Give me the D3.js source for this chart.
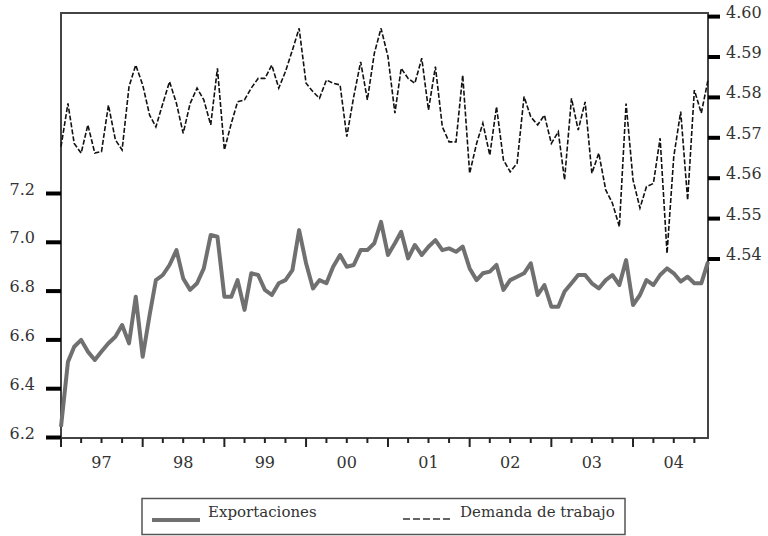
<!DOCTYPE html>
<html>
<head>
<meta charset="utf-8">
<script src="https://cdn.jsdelivr.net/npm/d3@7"></script>
<style>
  html, body { margin: 0; padding: 0; background: #fff; }
  svg { display: block; }
  text { font-family: "DejaVu Serif", "Liberation Serif", serif; fill: #333; }
</style>
</head>
<body>
<svg id="chart" width="768" height="536"></svg>
<script>
// ---- Data (monthly, Jan 1997 - Dec 2004) ----
const startYear = 1997;
const yearLabels = ["97", "98", "99", "00", "01", "02", "03", "04"];
const leftTicks = [6.2, 6.4, 6.6, 6.8, 7.0, 7.2];
const rightTicks = [4.54, 4.55, 4.56, 4.57, 4.58, 4.59, 4.60];

const exportaciones = [
  6.244, 6.510, 6.572, 6.600, 6.552, 6.518, 6.552, 6.586, 6.613, 6.661, 6.586, 6.777,
  6.531, 6.702, 6.845, 6.866, 6.907, 6.968, 6.852, 6.805, 6.832, 6.893, 7.030, 7.023,
  6.777, 6.777, 6.845, 6.723, 6.873, 6.866, 6.805, 6.784, 6.832, 6.845, 6.886, 7.050,
  6.914, 6.811, 6.845, 6.832, 6.900, 6.948, 6.900, 6.907, 6.968, 6.968, 6.996, 7.084,
  6.948, 6.996, 7.043, 6.934, 6.989, 6.948, 6.982, 7.009, 6.968, 6.975, 6.961, 6.982,
  6.893, 6.845, 6.873, 6.880, 6.907, 6.805, 6.845, 6.859, 6.873, 6.914, 6.784, 6.825,
  6.736, 6.736, 6.798, 6.832, 6.866, 6.866, 6.832, 6.811, 6.845, 6.866, 6.825, 6.927,
  6.743, 6.784, 6.845, 6.825, 6.866, 6.893, 6.873, 6.839, 6.859, 6.832, 6.832, 6.920
];

const demandaTrabajo = [
  4.5678, 4.5785, 4.5686, 4.5662, 4.5732, 4.5662, 4.5666, 4.5781, 4.5695, 4.5670, 4.5827, 4.5880,
  4.5831, 4.5756, 4.5727, 4.5785, 4.5839, 4.5785, 4.5711, 4.5785, 4.5823, 4.5794, 4.5732, 4.5872,
  4.5670, 4.5736, 4.5789, 4.5794, 4.5823, 4.5847, 4.5847, 4.5880, 4.5823, 4.5864, 4.5917, 4.5971,
  4.5835, 4.5814, 4.5798, 4.5843, 4.5835, 4.5831, 4.5703, 4.5802, 4.5888, 4.5794, 4.5909, 4.5971,
  4.5901, 4.5761, 4.5872, 4.5847, 4.5835, 4.5897, 4.5769, 4.5876, 4.5727, 4.5690, 4.5690, 4.5855,
  4.5612, 4.5686, 4.5736, 4.5657, 4.5777, 4.5645, 4.5616, 4.5637, 4.5802, 4.5752, 4.5732, 4.5756,
  4.5686, 4.5715, 4.5596, 4.5798, 4.5719, 4.5789, 4.5612, 4.5662, 4.5571, 4.5538, 4.5480, 4.5785,
  4.5596, 4.5526, 4.5579, 4.5587, 4.5699, 4.5414, 4.5653, 4.5765, 4.5546, 4.5818, 4.5761, 4.5843
];

const legendLabels = ["Exportaciones", "Demanda de trabajo"];

// ---- Layout ----
const svg = d3.select("#chart");
const L = 61, R = 708, T = 13, B = 438;

const months = exportaciones.map((_, i) => new Date(startYear, i, 1));

const x = d3.scaleTime()
  .domain([new Date(startYear, 0, 1), new Date(startYear + 7, 11, 1)])
  .range([L, R]);
const yL = d3.scaleLinear().domain([6.2, 7.2]).range([437.5, 193.5]);
const yR = d3.scaleLinear().domain([4.54, 4.60]).range([259, 16.6]);

// Frame
svg.append("rect")
  .attr("x", L).attr("y", T).attr("width", R - L).attr("height", B - T)
  .attr("fill", "none").attr("stroke", "#444").attr("stroke-width", 2);

// Left axis ticks (outside, thick)
const gL = svg.append("g");
gL.selectAll("line").data(leftTicks).join("line")
  .attr("x1", 46).attr("x2", L)
  .attr("y1", d => yL(d)).attr("y2", d => yL(d))
  .attr("stroke", "#000").attr("stroke-width", 4);
gL.selectAll("text").data(leftTicks).join("text")
  .attr("x", 35).attr("y", d => yL(d) + 1)
  .attr("text-anchor", "end").attr("font-size", 16)
  .text(d => d3.format(".1f")(d));

// Right axis ticks
const gR = svg.append("g");
gR.selectAll("line").data(rightTicks).join("line")
  .attr("x1", R).attr("x2", 720)
  .attr("y1", d => yR(d)).attr("y2", d => yR(d))
  .attr("stroke", "#000").attr("stroke-width", 4);
gR.selectAll("text").data(rightTicks).join("text")
  .attr("x", 726).attr("y", d => yR(d) + 1)
  .attr("text-anchor", "start").attr("font-size", 16)
  .text(d => d3.format(".2f")(d));

// X axis: quarterly ticks, longer at year boundaries
const qTicks = d3.range(0, 96, 3).map(i => new Date(startYear, i, 1));
svg.append("g").selectAll("line").data(qTicks).join("line")
  .attr("x1", d => x(d)).attr("x2", d => x(d))
  .attr("y1", B).attr("y2", d => d.getMonth() === 0 ? B + 9 : B + 5)
  .attr("stroke", "#222").attr("stroke-width", 2);
svg.append("g").selectAll("text").data(yearLabels).join("text")
  .attr("x", (d, i) => x(new Date(startYear + i, 6, 1)))
  .attr("y", 468)
  .attr("text-anchor", "middle").attr("font-size", 16)
  .text(d => d);

// Lines
const lineL = d3.line().x((d, i) => x(months[i])).y(d => yL(d));
const lineR = d3.line().x((d, i) => x(months[i])).y(d => yR(d));

svg.append("path").datum(exportaciones)
  .attr("d", lineL)
  .attr("fill", "none").attr("stroke", "#707070").attr("stroke-width", 4)
  .attr("stroke-linejoin", "round");

svg.append("path").datum(demandaTrabajo)
  .attr("d", lineR)
  .attr("fill", "none").attr("stroke", "#111").attr("stroke-width", 1.6)
  .attr("stroke-dasharray", "5,2");

// Legend
const lg = svg.append("g");
lg.append("rect").attr("x", 142).attr("y", 498.5).attr("width", 483).attr("height", 36)
  .attr("fill", "#fff").attr("stroke", "#555").attr("stroke-width", 1.5);
lg.append("line").attr("x1", 152).attr("x2", 200).attr("y1", 520).attr("y2", 520)
  .attr("stroke", "#707070").attr("stroke-width", 4);
lg.append("text").attr("x", 208).attr("y", 517).attr("font-size", 15).text(legendLabels[0]);
lg.append("line").attr("x1", 403).attr("x2", 453).attr("y1", 519).attr("y2", 519)
  .attr("stroke", "#333").attr("stroke-width", 1.6).attr("stroke-dasharray", "7,3");
lg.append("text").attr("x", 460).attr("y", 517).attr("font-size", 15).text(legendLabels[1]);
</script>
</body>
</html>
